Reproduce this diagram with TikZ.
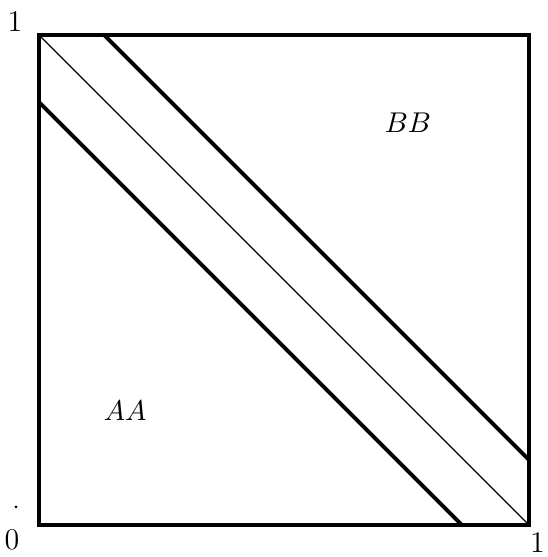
\documentclass[tikz,border=0pt]{standalone}
\usepackage{amsmath}
\usetikzlibrary{positioning}
\tikzset{
  frameline/.style={
    draw=black,
    line width=1.6pt,
    line join=miter
  },
  bandline/.style={
    draw=black,
    line width=1.5pt
  },
  diagline/.style={
    draw=black,
    line width=0.5pt
  },
  ticklabel/.style={
    inner sep=0pt,
    font=\fontsize{11.5}{13}\selectfont
  },
  regionlabel/.style={
    inner sep=0pt,
    font=\fontsize{11}{13}\selectfont
  }
}

\begin{document}
\begin{tikzpicture}[x=6.6cm,y=6.6cm]
  \useasboundingbox (-0.0796,-0.0653) rectangle (1.0367,1.0714);
  \coordinate (o) at (0,0);
  \coordinate (tl) at (0,1);
  \coordinate (br) at (1,0);
  \coordinate (tr) at (1,1);
  \coordinate (uptop) at (0.133,1);
  \coordinate (upright) at (1,0.133);
  \coordinate (lowleft) at (0,0.863);
  \coordinate (lowbottom) at (0.863,0);
  \draw[frameline] (o) rectangle (tr);
  \draw[diagline] (tl) -- (br);
  \draw[bandline] (uptop) -- (upright);
  \draw[bandline] (lowleft) -- (lowbottom);
  \node[ticklabel] (one-y) at (-0.049,1.027) {1};
  \node[ticklabel] (zero) at (-0.055,-0.031) {0};
  \node[ticklabel] (one-x) at (1.017,-0.036) {1};
  \fill (-0.047,0.037) circle (0.6pt);
  \node[regionlabel] (bb) at (0.753,0.82) {$BB$};
  \node[regionlabel] (aa) at (0.176,0.233) {$AA$};
\end{tikzpicture}
\end{document}
